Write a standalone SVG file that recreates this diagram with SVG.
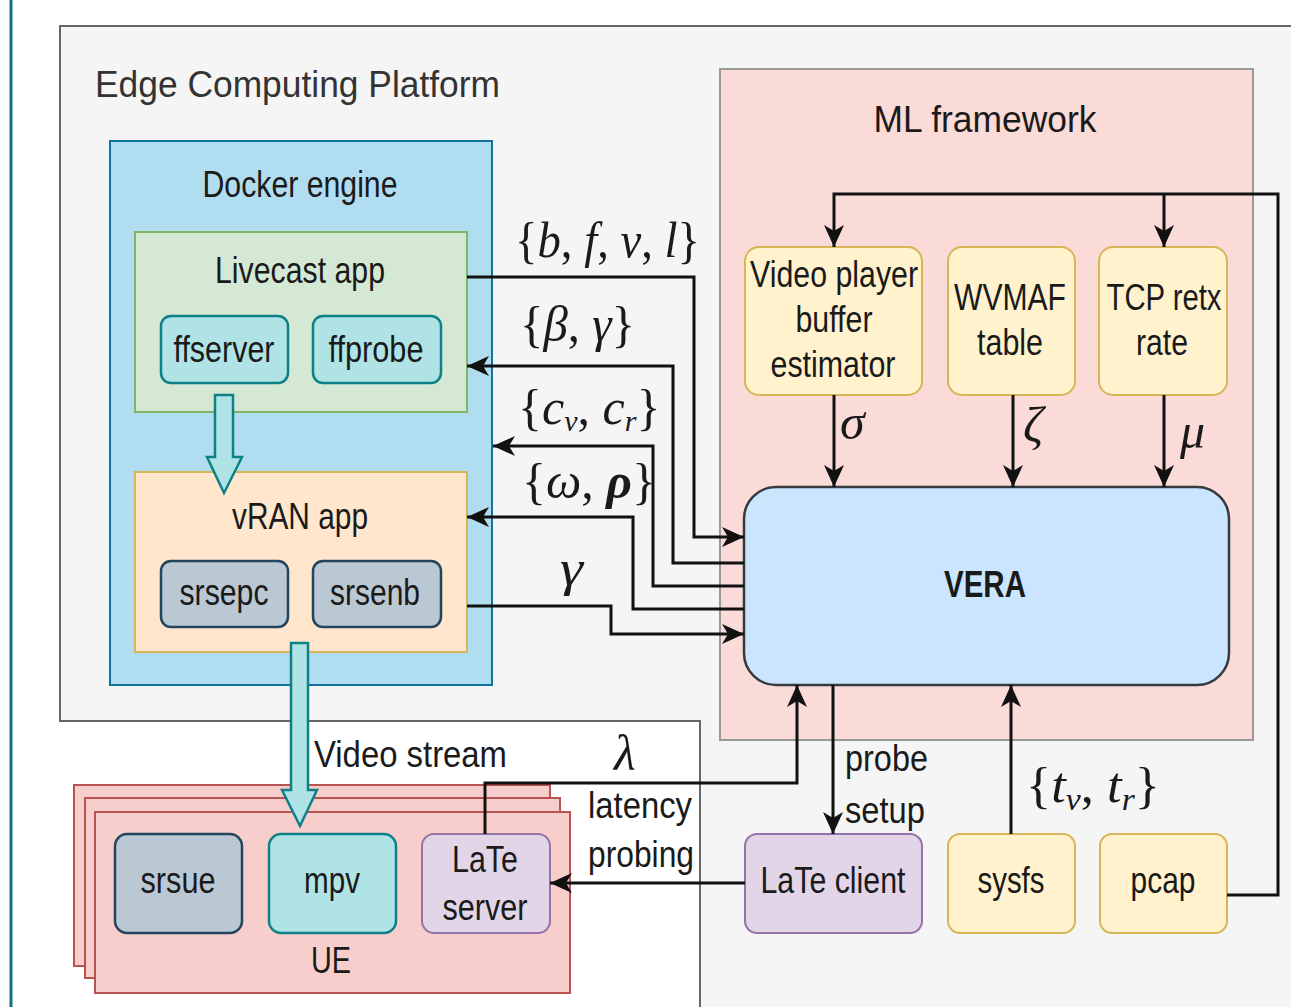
<svg xmlns="http://www.w3.org/2000/svg" width="1291" height="1007" viewBox="0 0 1291 1007">
<defs>
<style>
.t{font-family:'Liberation Sans',Arial,sans-serif;font-size:36px;fill:#1a1a1a;text-anchor:middle}
.ts{font-family:'Liberation Sans',Arial,sans-serif;font-size:36px;fill:#1a1a1a}
.m{font-family:'Liberation Serif','Times New Roman',serif;font-size:50px;fill:#1a1a1a}
.i{font-style:italic}
.conn{fill:none;stroke:#111;stroke-width:3}
.arr{marker-end:url(#ah)}
.yel{fill:#fff2cc;stroke:#d6b656;stroke-width:2}
.pur{fill:#e1d5e7;stroke:#9673a6;stroke-width:2}
.cyan{fill:#b0e3e6;stroke:#0e8088;stroke-width:2.5}
.gray{fill:#bac8d3;stroke:#23445d;stroke-width:2.5}
.ue{fill:#f8cecc;stroke:#b85450;stroke-width:2}
</style>
<marker id="ah" markerUnits="userSpaceOnUse" markerWidth="24" markerHeight="22" refX="22" refY="10" orient="auto">
<path d="M0,0 L22,10 L0,20 L6,10 Z" fill="#111"/>
</marker>
</defs>
<rect x="0" y="0" width="1291" height="1007" fill="#ffffff"/>
<line x1="11" y1="0" x2="11" y2="1007" stroke="#14707f" stroke-width="3"/>

<g id="edge-platform">
<polygon points="60,26 1300,26 1300,1012 700,1012 700,721 60,721" fill="#f5f5f5" stroke="#666666" stroke-width="2"/>
<text class="ts" x="95" y="97" textLength="405" lengthAdjust="spacingAndGlyphs" style="fill:#333">Edge Computing Platform</text>
</g>

<g id="ml-framework">
<rect x="720" y="69" width="533" height="671" fill="#fadbd8" stroke="#999999" stroke-width="2"/>
<text class="t" x="985" y="132" textLength="223" lengthAdjust="spacingAndGlyphs">ML framework</text>
</g>

<g id="docker-engine">
<rect x="110" y="141" width="382" height="544" fill="#b1ddf0" stroke="#10739e" stroke-width="2"/>
<text class="t" x="300" y="197" textLength="195" lengthAdjust="spacingAndGlyphs">Docker engine</text>
</g>

<g id="livecast-app">
<rect x="135" y="232" width="332" height="180" fill="#d5e8d4" stroke="#82b366" stroke-width="2"/>
<text class="t" x="300" y="283" textLength="170" lengthAdjust="spacingAndGlyphs">Livecast app</text>
</g>
<g id="ffserver">
<rect class="cyan" x="161" y="316" width="127" height="67" rx="10"/>
<text class="t" x="224" y="362" textLength="101" lengthAdjust="spacingAndGlyphs">ffserver</text>
</g>
<g id="ffprobe">
<rect class="cyan" x="313" y="316" width="128" height="67" rx="10"/>
<text class="t" x="376" y="362" textLength="95" lengthAdjust="spacingAndGlyphs">ffprobe</text>
</g>

<g id="vran-app">
<rect x="135" y="472" width="332" height="180" fill="#ffe6cc" stroke="#d6b656" stroke-width="2"/>
<text class="t" x="300" y="529" textLength="136" lengthAdjust="spacingAndGlyphs">vRAN app</text>
</g>
<g id="srsepc">
<rect class="gray" x="161" y="561" width="127" height="66" rx="10"/>
<text class="t" x="224" y="605" textLength="89" lengthAdjust="spacingAndGlyphs">srsepc</text>
</g>
<g id="srsenb">
<rect class="gray" x="313" y="561" width="128" height="66" rx="10"/>
<text class="t" x="375" y="605" textLength="90" lengthAdjust="spacingAndGlyphs">srsenb</text>
</g>

<g id="ue">
<rect class="ue" x="74" y="785" width="476" height="181"/>
<rect class="ue" x="85" y="798" width="475" height="180"/>
<rect class="ue" x="95" y="812" width="475" height="181"/>
<text class="t" x="331" y="973" textLength="40" lengthAdjust="spacingAndGlyphs">UE</text>
</g>
<g id="srsue">
<rect class="gray" x="115" y="834" width="127" height="99" rx="12"/>
<text class="t" x="178" y="893" textLength="75" lengthAdjust="spacingAndGlyphs">srsue</text>
</g>
<g id="mpv">
<rect class="cyan" x="269" y="834" width="127" height="99" rx="12"/>
<text class="t" x="332" y="893" textLength="56" lengthAdjust="spacingAndGlyphs">mpv</text>
</g>
<g id="late-server">
<rect class="pur" x="422" y="834" width="128" height="99" rx="12"/>
<text class="t" x="485" y="872" textLength="66" lengthAdjust="spacingAndGlyphs">LaTe</text>
<text class="t" x="485" y="920" textLength="85" lengthAdjust="spacingAndGlyphs">server</text>
</g>

<g id="block-arrows">
<polygon class="cyan" points="215,395 233,395 233,457 242,457 224,493 207,457 215,457"/>
<polygon class="cyan" points="291,643 308,643 308,790 317,790 300,826 282,790 291,790"/>
</g>

<g id="video-player">
<rect class="yel" x="745" y="247" width="177" height="148" rx="14"/>
<text class="t" x="834" y="287" textLength="168" lengthAdjust="spacingAndGlyphs">Video player</text>
<text class="t" x="834" y="332" textLength="77" lengthAdjust="spacingAndGlyphs">buffer</text>
<text class="t" x="833" y="377" textLength="125" lengthAdjust="spacingAndGlyphs">estimator</text>
</g>
<g id="wvmaf">
<rect class="yel" x="948" y="247" width="127" height="148" rx="14"/>
<text class="t" x="1010" y="310" textLength="112" lengthAdjust="spacingAndGlyphs">WVMAF</text>
<text class="t" x="1010" y="355" textLength="66" lengthAdjust="spacingAndGlyphs">table</text>
</g>
<g id="tcp-retx">
<rect class="yel" x="1099" y="247" width="128" height="148" rx="14"/>
<text class="t" x="1164" y="310" textLength="115" lengthAdjust="spacingAndGlyphs">TCP retx</text>
<text class="t" x="1162" y="355" textLength="52" lengthAdjust="spacingAndGlyphs">rate</text>
</g>

<g id="vera">
<rect x="744" y="487" width="485" height="198" rx="32" fill="#cce5ff" stroke="#36393d" stroke-width="2.5"/>
<text class="t" x="985" y="597" font-weight="bold" textLength="82" lengthAdjust="spacingAndGlyphs">VERA</text>
</g>

<g id="late-client">
<rect class="pur" x="745" y="834" width="177" height="99" rx="12"/>
<text class="t" x="833" y="893" textLength="145" lengthAdjust="spacingAndGlyphs">LaTe client</text>
</g>
<g id="sysfs">
<rect class="yel" x="948" y="834" width="127" height="99" rx="12"/>
<text class="t" x="1011" y="893" textLength="67" lengthAdjust="spacingAndGlyphs">sysfs</text>
</g>
<g id="pcap">
<rect class="yel" x="1100" y="834" width="127" height="99" rx="12"/>
<text class="t" x="1163" y="893" textLength="65" lengthAdjust="spacingAndGlyphs">pcap</text>
</g>

<g id="connectors">
<path class="conn arr" d="M467,277 H694 V537 H744"/>
<path class="conn arr" d="M744,563 H673 V366 H467"/>
<path class="conn arr" d="M744,586 H653 V446 H493"/>
<path class="conn arr" d="M744,609 H633 V517 H467"/>
<path class="conn arr" d="M467,606 H611 V634 H744"/>
<path class="conn arr" d="M834,395 V487"/>
<path class="conn arr" d="M1013,395 V487"/>
<path class="conn arr" d="M1164,395 V487"/>
<path class="conn arr" d="M1227,895 H1278 V194 H834 V247"/>
<path class="conn arr" d="M1164,194 V247"/>
<path class="conn arr" d="M485,834 V783 H797 V685"/>
<path class="conn arr" d="M833,685 V834"/>
<path class="conn arr" d="M1011,834 V685"/>
<path class="conn arr" d="M745,883 H550"/>
</g>

<g id="labels">
<text class="m" x="515" y="257" textLength="185" lengthAdjust="spacingAndGlyphs">{<tspan class="i">b</tspan>, <tspan class="i">f</tspan>, <tspan class="i">v</tspan>, <tspan class="i">l</tspan>}</text>
<text class="m" x="520" y="341" textLength="115" lengthAdjust="spacingAndGlyphs">{<tspan class="i">β</tspan>, <tspan class="i">γ</tspan>}</text>
<text class="m" x="518" y="424" font-size="47">{<tspan class="i">c</tspan><tspan class="i" font-size="30" dy="7">v</tspan><tspan dy="-7">, </tspan><tspan class="i">c</tspan><tspan class="i" font-size="30" dy="7">r</tspan><tspan dy="-7">}</tspan></text>
<text class="m" x="522" y="498" font-size="43">{<tspan class="i">ω</tspan>, <tspan class="i" font-weight="bold">ρ</tspan>}</text>
<text class="m" x="560" y="585" textLength="23" lengthAdjust="spacingAndGlyphs"><tspan class="i">γ</tspan></text>
<text class="m i" x="840" y="439" font-size="48">σ</text>
<text class="m i" x="1023" y="442" font-size="48">ζ</text>
<text class="m i" x="1180" y="448" font-size="48">μ</text>
<text class="m i" x="614" y="770" font-size="52">λ</text>
<text class="m" x="1026" y="802" textLength="134" lengthAdjust="spacingAndGlyphs">{<tspan class="i">t</tspan><tspan class="i" font-size="32" dy="8">v</tspan><tspan dy="-8">, </tspan><tspan class="i">t</tspan><tspan class="i" font-size="32" dy="8">r</tspan><tspan dy="-8">}</tspan></text>
<text class="ts" x="314" y="767" textLength="193" lengthAdjust="spacingAndGlyphs">Video stream</text>
<text class="ts" x="588" y="818" textLength="104" lengthAdjust="spacingAndGlyphs">latency</text>
<text class="ts" x="588" y="867" textLength="106" lengthAdjust="spacingAndGlyphs">probing</text>
<text class="ts" x="845" y="771" textLength="83" lengthAdjust="spacingAndGlyphs">probe</text>
<text class="ts" x="845" y="823" textLength="80" lengthAdjust="spacingAndGlyphs">setup</text>
</g>
</svg>
